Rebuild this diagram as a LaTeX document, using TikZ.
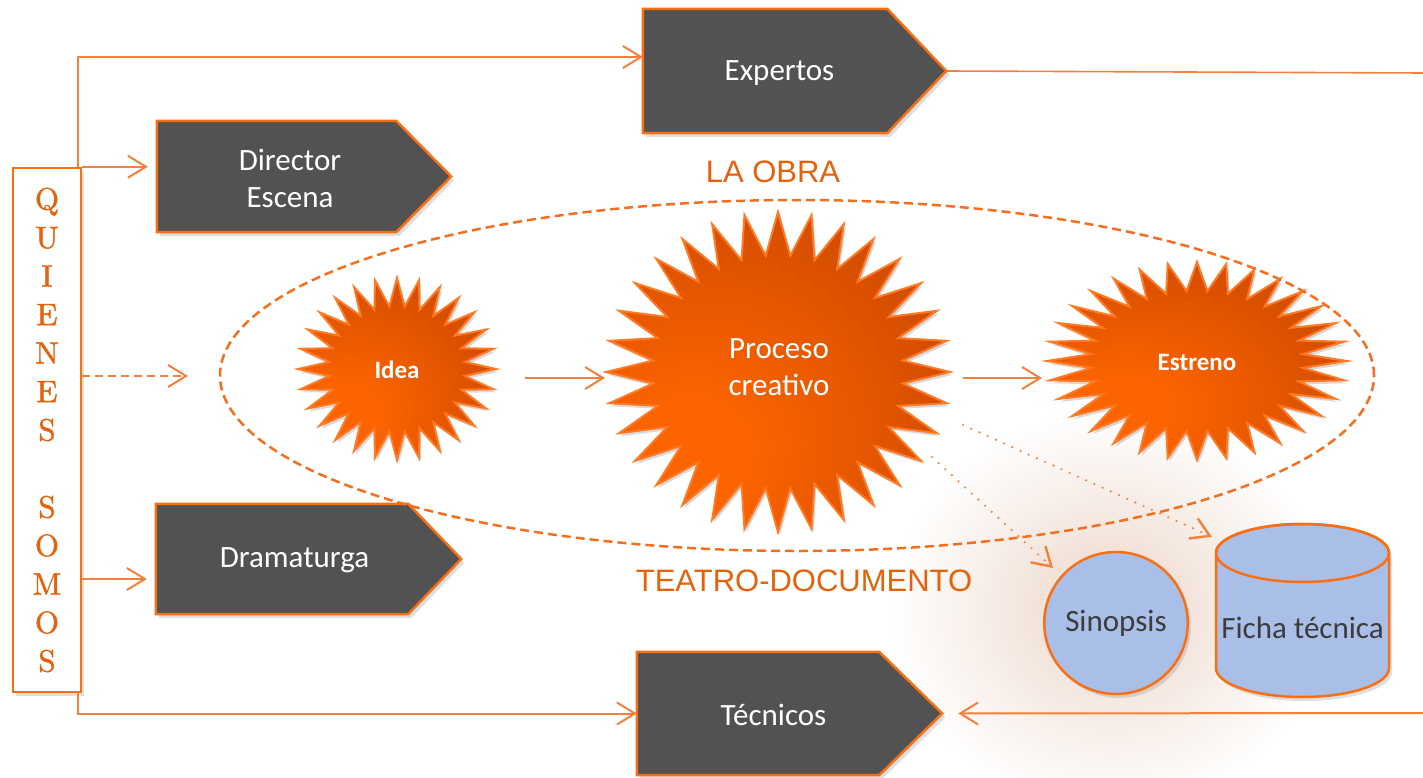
\documentclass[tikz,border=0pt]{standalone}
\usepackage{fontspec}
\newfontfamily\calfont{Carlito}
\newfontfamily\arialfont{Liberation Sans}
\newfontfamily\lmten{lmroman10-regular.otf}[FakeBold=1.2]
\usetikzlibrary{arrows.meta,shapes.geometric,shadows,calc,fadings}
\definecolor{lineor}{RGB}{245,128,60}
\definecolor{otext}{RGB}{230,98,10}
\definecolor{oborder}{RGB}{250,110,20}
\definecolor{boxgray}{RGB}{82,82,82}
\definecolor{starA}{RGB}{252,100,0}
\definecolor{starB}{RGB}{190,64,0}
\definecolor{starline}{RGB}{255,122,36}
\definecolor{blu}{RGB}{170,191,231}
\definecolor{glowc}{RGB}{236,214,200}
\definecolor{darktext}{RGB}{60,60,60}
\definecolor{ellcol}{RGB}{245,110,30}
\pgfdeclareradialshading{starshade}{\pgfpoint{-14bp}{-14bp}}{color(0bp)=(starA); color(8bp)=(starA); color(48bp)=(starB); color(80bp)=(starB)}
\tikzfading[name=glowfade, inner color=transparent!0, outer color=transparent!100]
\tikzset{
  softshadow/.style={drop shadow={opacity=0.25,shadow xshift=3pt,shadow yshift=-4pt}},
  connarrow/.style={draw=lineor, line width=2pt, -{Straight Barb[length=18pt,width=22pt]}},
  connline/.style={draw=lineor, line width=1.6pt},
  dotarrow/.style={draw=lineor, line width=2.4pt, line cap=round, dash pattern=on 0pt off 9pt, -{Straight Barb[length=18pt,width=22pt,line cap=butt]}},
  holder/.style={inner sep=0pt, draw=none, rectangle},
  pentbox/.style={fill=boxgray, draw=oborder, line width=2.5pt, line join=miter, softshadow},
  boxtext/.style={text=white, font=\calfont\fontsize{31}{37}\selectfont, align=center},
  startext/.style={text=white, font=\calfont\bfseries\fontsize{25}{30}\selectfont, align=center},
  startextreg/.style={text=white, font=\calfont\fontsize{31}{37}\selectfont, align=center},
  ortext/.style={text=otext, font=\arialfont\fontsize{31}{37}\selectfont},
  starstyle/.style={shading=starshade, draw=starline, line width=2pt, line join=miter,
     drop shadow={opacity=0.3,shadow xshift=2pt,shadow yshift=-3pt}},
}
\newcommand\pentpath[2]{%
  \path[pentbox] (#1.north west) -- ($(#1.north east)+(-#2,0)$) -- (#1.east)
     -- ($(#1.south east)+(-#2,0)$) -- (#1.south west) -- cycle;}
\newcommand\starburst[6]{%
  \pgfmathtruncatemacro\sbN{2*#5-1}%
  \path[starstyle] plot[samples at={0,...,\sbN}, variable=\k]
    ({#1+#3*(1-(1-#6)*mod(\k,2))*cos(90+\k*180/#5)},
     {#2+#4*(1-(1-#6)*mod(\k,2))*sin(90+\k*180/#5)}) -- cycle;}
\begin{document}
\begin{tikzpicture}[x=1pt,y=-1pt]
\useasboundingbox (0,0) rectangle (1423,778);
% soft glow
\fill[glowc, path fading=glowfade] (890,410) rectangle (1330,810);

% holder nodes
\node[holder, minimum width=303pt, minimum height=124pt] (expertos) at (794.5,71) {};
\node[holder, minimum width=294pt, minimum height=111pt] (director) at (304,176.5) {};
\node[holder, minimum width=305pt, minimum height=110pt] (dramaturga) at (308.5,559) {};
\node[holder, minimum width=305pt, minimum height=123pt] (tecnicos) at (789.5,713.5) {};
\node[holder, ellipse, minimum width=198pt, minimum height=182pt] (idea) at (397,369) {};
\node[holder, ellipse, minimum width=344pt, minimum height=320pt] (proceso) at (778,372) {};
\node[holder, ellipse, minimum width=300pt, minimum height=198pt] (estreno) at (1197,361) {};
\node[holder, minimum width=173pt, minimum height=173pt] (ficha) at (1302.5,610.5) {};
\coordinate (rtop) at (1423,73);
\coordinate (rbot) at (1423,713);

% QUIENES SOMOS box
\node[draw=oborder, fill=white, line width=2.5pt, minimum width=68pt, minimum height=524pt,
      inner sep=0pt, softshadow, text=otext, align=center, font=\lmten\fontsize{31}{38.5}\selectfont]
      (q) at (47,430) {Q\\U\\I\\E\\N\\E\\S\\[38.5pt]S\\O\\M\\O\\S};

% connectors from QUIENES SOMOS
\draw[connarrow] ($(q.north east)+(-4,0)$) |- ($(expertos.west)+(0,-14)$);
\draw[connarrow, shorten >=9pt] (q.north east) -- (q.north east -| director.west);
\draw[connarrow, dash pattern=on 8pt off 5pt, shorten >=32pt] (q.east |- 0,376) -- (q.east |- 0,376 -| 220,0);
\draw[connarrow, shorten >=9pt] ($(q.east)+(0,149)$) coordinate (qd) -- (qd -| dramaturga.west);
\draw[connarrow] ($(q.south east)+(-4,0)$) |- (tecnicos.west);
\draw[connline] (expertos.east) -- (rtop);
\draw[connarrow, shorten >=16pt] (rbot) -- (tecnicos.east);

% pentagon boxes
\pentpath{expertos}{59}
\pentpath{director}{55}
\pentpath{dramaturga}{53}
\pentpath{tecnicos}{63}
\node[boxtext] (expertos-t) at ($(expertos.center)+(-15,2)$) {Expertos};
\node[boxtext] (director-t) at ($(director.center)+(-14,2)$) {Director\\Escena};
\node[boxtext] (dramaturga-t) at ($(dramaturga.center)+(-14,1)$) {Dramaturga};
\node[boxtext] (tecnicos-t) at ($(tecnicos.center)+(-16,1)$) {Técnicos};

% stars
\starburst{397}{369}{99}{91}{28}{0.69}
\starburst{778}{372}{172}{160}{32}{0.73}
\starburst{1197}{361}{150}{99}{32}{0.71}
\node[startext] (idea-t) at ($(idea.center)+(0,1)$) {Idea};
\node[startextreg] (proceso-t) at ($(proceso.center)+(1,-5)$) {Proceso\\creativo};
\node[startext] (estreno-t) at ($(estreno.center)+(0,1)$) {Estreno};

% arrows between stars
\draw[connarrow] ($(idea.center)+(128,9)$) -- ($(proceso.center)+(-173,6)$);
\draw[connarrow] ($(proceso.center)+(185,6)$) -- ($(estreno.center)+(-155,17)$);

% LA OBRA ellipse
\node[draw=ellcol, line width=2.5pt, dash pattern=on 9pt off 5pt, ellipse, inner sep=0pt,
      minimum width=1154pt, minimum height=351pt] (obra) at (797,375.5) {};
\node[ortext] (laobra) at (773,172) {LA OBRA};
\node[ortext] (teatro) at (804,581) {TEATRO-DOCUMENTO};

% Sinopsis
\node[ellipse, draw=oborder, fill=blu, line width=2.5pt, minimum width=132pt, minimum height=142pt,
      inner sep=0pt, text=darktext, font=\calfont\fontsize{31}{37}\selectfont, softshadow]
      (sinopsis) at (1116,623) {Sinopsis};

% Ficha tecnica cylinder
\path[fill=blu, draw=oborder, line width=2.5pt, softshadow]
  (1216,553) -- (1216,668) arc[start angle=180, end angle=0, x radius=86.5, y radius=29]
  -- (1389,553) arc[start angle=0, end angle=-180, x radius=86.5, y radius=29] -- cycle;
\draw[draw=oborder, line width=2.5pt] (1302.5,553) ellipse[x radius=86.5, y radius=29];
\node[text=darktext, font=\calfont\fontsize{31}{37}\selectfont] (ficha-t) at (1302.5,628) {Ficha técnica};

% dotted connectors
\draw[dotarrow] ($(proceso.center)+(185,53)$) -- ($(ficha.north west)+(-4,13)$);
\draw[dotarrow] ($(proceso.center)+(154,85)$) -- ($(sinopsis.center)+(-63,-55)$);
\end{tikzpicture}
\end{document}
